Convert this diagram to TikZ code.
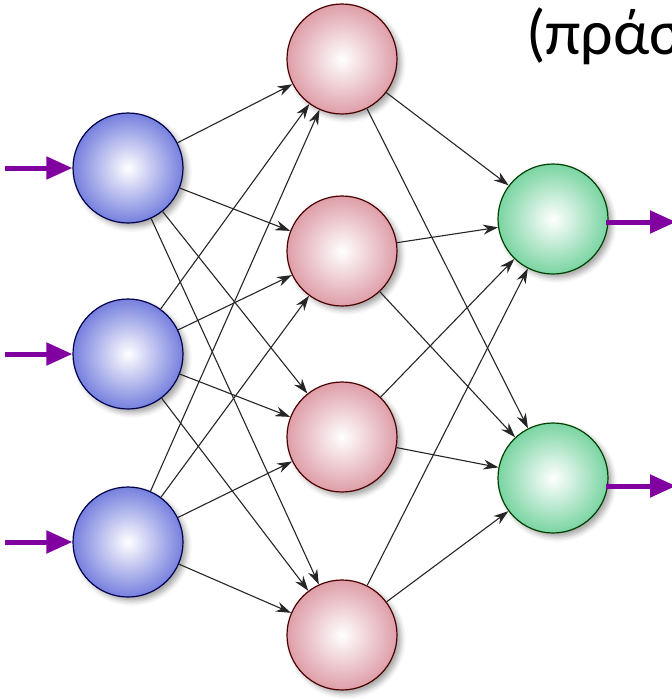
\documentclass[tikz,border=0pt]{standalone}
\usepackage{fontspec}
\newfontfamily\labelfont{Carlito}
\usepackage{tikz}
\usetikzlibrary{arrows.meta,shadows.blur}

\definecolor{inblue}{RGB}{118,128,222}
\definecolor{hidpink}{RGB}{222,158,168}
\definecolor{outgreen}{RGB}{122,212,162}
\definecolor{sigpurple}{RGB}{128,0,160}

\tikzset{
  neuron/.style={circle,line width=1.2pt,minimum size=110pt,inner sep=0pt,
    blur shadow={shadow xshift=4pt,shadow yshift=-4pt,shadow blur radius=5pt,shadow opacity=35}},
  inneuron/.style={neuron,draw=blue!30!black,inner color=white,outer color=inblue},
  hidneuron/.style={neuron,draw=red!30!black,inner color=white,outer color=hidpink},
  outneuron/.style={neuron,draw=green!25!black,inner color=white,outer color=outgreen},
  link/.style={-{Stealth[length=15pt,width=10pt]},line width=1.1pt,black!85},
  signal/.style={-{Triangle[length=26pt,width=22pt]},line width=5pt,sigpurple}
}

\begin{document}
\begin{tikzpicture}[x=1pt,y=-1pt]
  \useasboundingbox (0,0) rectangle (672,699);
  \clip (0,0) rectangle (672,699);

  % layers
  \node[inneuron] (in1) at (128,168) {};
  \node[inneuron] (in2) at (128,354) {};
  \node[inneuron] (in3) at (128,542) {};

  \node[hidneuron] (h1) at (342,59) {};
  \node[hidneuron] (h2) at (342,251) {};
  \node[hidneuron] (h3) at (342,437) {};
  \node[hidneuron] (h4) at (342,635) {};

  \node[outneuron] (out1) at (553,219) {};
  \node[outneuron] (out2) at (553,478) {};

  % input -> hidden
  \path[link] (in1) edge (h1) edge (h2) edge (h3) edge (h4);
  \path[link] (in2) edge (h1) edge (h2) edge (h3) edge (h4);
  \path[link] (in3) edge (h1) edge (h2) edge (h3) edge (h4);

  % hidden -> output
  \path[link] (h1) edge (out1) edge (out2);
  \path[link] (h2) edge (out1) edge (out2);
  \path[link] (h3) edge (out1) edge (out2);
  \path[link] (h4) edge (out1) edge (out2);

  % signals in and out
  \coordinate (src1) at (5,168);
  \coordinate (src2) at (5,354);
  \coordinate (src3) at (5,542);
  \coordinate (tail1) at (606,222);
  \coordinate (tail2) at (606,486);
  \coordinate (dst1) at (676,222);
  \coordinate (dst2) at (676,486);
  \draw[signal] (src1) -- (in1);
  \draw[signal] (src2) -- (in2);
  \draw[signal] (src3) -- (in3);
  \draw[signal] (tail1) -- (dst1);
  \draw[signal] (tail2) -- (dst2);

  \node[anchor=base west,inner sep=0pt,font=\labelfont\fontsize{64}{70}\selectfont] (caption) at (526,54) {(πράσ};
\end{tikzpicture}
\end{document}
